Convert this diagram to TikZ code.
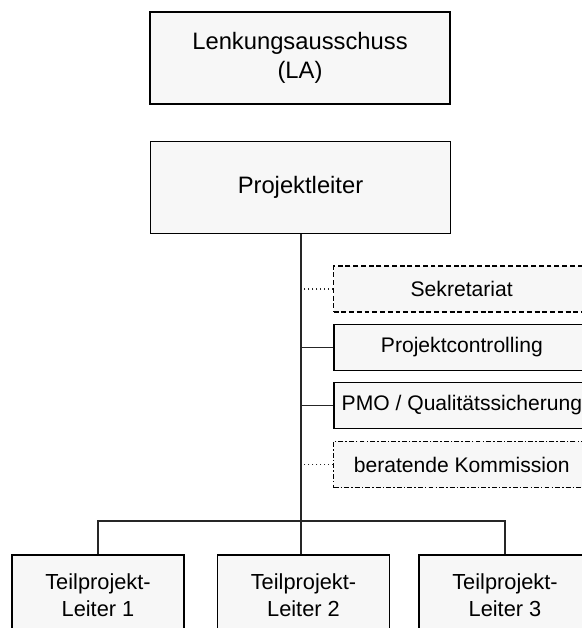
\documentclass[tikz,border=0pt]{standalone}
\usepackage{fontspec}
\setmainfont{Liberation Sans}
\tikzset{
  box/.style={draw, line width=1.2pt, fill=black!3, align=center, inner sep=0pt},
  bigbox/.style={box, minimum width=7.5cm, minimum height=2.3cm,
                 font=\fontsize{16.9}{20.5}\selectfont},
  sidebox/.style={box, anchor=west, minimum width=6.4cm, minimum height=1.15cm,
                  font=\fontsize{15}{18}\selectfont},
  tpbox/.style={box, anchor=north, minimum width=4.3cm, minimum height=2cm,
                font=\fontsize{15.5}{19}\selectfont},
  link/.style={line width=0.8pt, black!85},
}

\begin{document}
\begin{tikzpicture}[x=0.025cm, y=-0.025cm]
      \useasboundingbox (0,0) rectangle (582,628);
      \clip (0,0) rectangle (582,628);
      % Leitung
      \node[bigbox] (la) at (300,58) {Lenkungsausschuss\\(LA)};
      \node[bigbox] (pl) at (300.5,187.5) {Projektleiter};
      % Stabsstellen
      \node[sidebox, line width=0.9pt, dash pattern=on 3.5pt off 2pt] (sek) at (333,289) {Sekretariat};
      \node[sidebox] (pc) at (333,347.5) {Projektcontrolling};
      \node[sidebox] (pmo) at (333,405.5) {PMO / Qualitätssicherung};
      \node[sidebox, line width=0.9pt, dash pattern=on 3.5pt off 1.5pt on 1pt off 1.5pt] (bk) at (333,464.5) {beratende Kommission};
      % Teilprojekte
      \node[tpbox] (tp1) at (98,554) {Teilprojekt-\\Leiter 1};
      \node[tpbox] (tp2) at (303.5,554) {Teilprojekt-\\Leiter 2};
      \node[tpbox] (tp3) at (505,554) {Teilprojekt-\\Leiter 3};
      \coordinate (bus) at (301,521);
      \draw[link] (pl.south -| bus) -- (bus) -- (bus |- tp2.north);
      \draw[link] (tp1.north) |- (bus) -| (tp3.north);
      \draw[link, dotted] (sek.west) -- (sek.west -| bus);
      \draw[link] (pc.west) -- (pc.west -| bus);
      \draw[link] (pmo.west) -- (pmo.west -| bus);
      \draw[link, dotted] (bk.west) -- (bk.west -| bus);
\end{tikzpicture}
\end{document}
